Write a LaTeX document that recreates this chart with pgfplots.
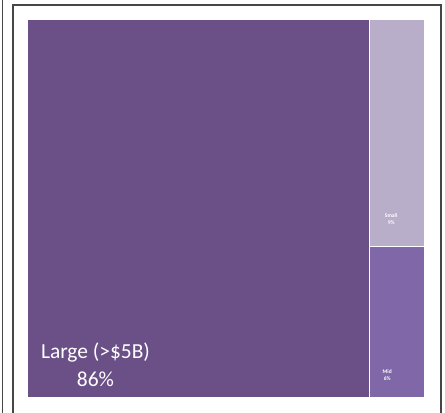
\documentclass[border=0pt]{standalone}
\usepackage{pgfplots}
\pgfplotsset{compat=1.18}
\usepackage{fontspec}
\setmainfont{Carlito}
\definecolor{large}{RGB}{106,80,135}
\definecolor{small}{RGB}{185,174,201}
\definecolor{mid}{RGB}{128,103,168}
\definecolor{frame}{RGB}{70,70,70}
\begin{document}
\begin{tikzpicture}
  % page box and frame lines
  \path[use as bounding box, fill=white] (0bp,0bp) rectangle (445bp,413bp);
  \draw[frame, line width=1.8bp] (2.5bp,0bp) -- (2.5bp,413bp);
  \draw[frame, line width=1.8bp] (13bp,0bp) -- (13bp,408bp) -- (441bp,408bp) -- (441bp,0bp);
  \begin{axis}[
    at={(27bp,15bp)}, anchor=south west,
    scale only axis, width=398bp, height=379bp,
    xmin=0, xmax=1, ymin=0, ymax=1,
    enlargelimits=false, hide axis, clip=false,
  ]
    % Large 86%
    \addplot[fill=large, draw=white, line width=1.5bp]
      coordinates {(0,0) (0.86,0) (0.86,1) (0,1)} -- cycle;
    % Small 9%
    \addplot[fill=small, draw=white, line width=1.5bp]
      coordinates {(0.86,0.4) (1,0.4) (1,1) (0.86,1)} -- cycle;
    % Mid 6%
    \addplot[fill=mid, draw=white, line width=1.5bp]
      coordinates {(0.86,0) (1,0) (1,0.4) (0.86,0.4)} -- cycle;
    \node[white, align=center, font=\fontsize{21.5}{28}\selectfont]
      at (axis cs:0.172,0.087) {Large (>\$5B)\\86\%};
    \node[white, align=center, font=\fontsize{5.5}{7.5}\selectfont\bfseries]
      at (axis cs:0.915,0.472) {Small\\9\%};
    \node[white, align=center, font=\fontsize{5.5}{7.5}\selectfont\bfseries]
      at (axis cs:0.905,0.061) {Mid\\6\%};
  \end{axis}
\end{tikzpicture}
\end{document}
